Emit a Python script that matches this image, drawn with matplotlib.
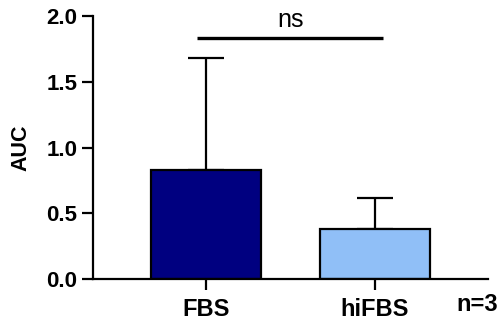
import matplotlib
matplotlib.use("Agg")
import matplotlib.pyplot as plt

plt.rcParams['font.family'] = ['Liberation Sans', 'DejaVu Sans']

groups = ["FBS", "hiFBS"]
means = [0.83, 0.38]
sd_upper = [0.85, 0.24]
colors = ["#000080", "#90BFF7"]
sig_label = "ns"
sig_height = 1.83
n_label = "n=3"

fig = plt.figure(figsize=(5.02, 3.22), dpi=100)
ax = fig.add_axes([0.185, 0.1335, 0.787, 0.8165])

x = list(range(len(groups)))
ax.bar(x, means, width=0.65, color=colors, edgecolor="black", linewidth=1.6, zorder=2)
ax.errorbar(x, means, yerr=[[0] * len(means), sd_upper], fmt="none",
            ecolor="black", elinewidth=1.6, capsize=13, capthick=1.6, zorder=1)

ax.plot([-0.05, 1.05], [sig_height, sig_height], color="black", lw=2.4, solid_capstyle="butt")
ax.text(0.5, sig_height + 0.05, sig_label, ha="center", va="bottom", fontsize=18)

ax.set_xlim(-0.669, 1.669)
ax.set_ylim(0, 2.0)
ax.set_yticks([0, 0.5, 1.0, 1.5, 2.0])
ax.set_yticklabels(["0.0", "0.5", "1.0", "1.5", "2.0"])
ax.set_xticks(x)
ax.set_xticklabels(groups)
for lab in ax.get_xticklabels():
    lab.set_fontweight("bold")
    lab.set_fontsize(17)
for lab in ax.get_yticklabels():
    lab.set_fontweight("bold")
    lab.set_fontsize(16)
ax.tick_params(axis="both", width=1.6, length=8, direction="out")
ax.tick_params(axis="y", pad=3)
ax.tick_params(axis="x", pad=6)
ax.set_ylabel("AUC", fontsize=15.5, fontweight="bold", labelpad=11)

for side in ("top", "right"):
    ax.spines[side].set_visible(False)
for side in ("left", "bottom"):
    ax.spines[side].set_linewidth(1.6)

fig.text(0.91, 0.018, n_label, fontsize=17, fontweight="bold", ha="left", va="bottom")

fig.savefig("out.png", dpi=100)
